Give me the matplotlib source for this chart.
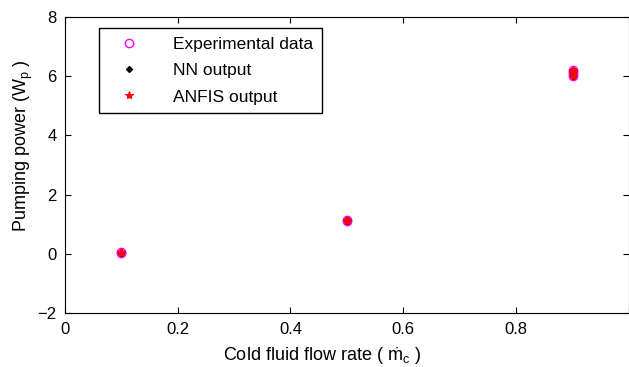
import matplotlib as mpl
import matplotlib.pyplot as plt

flow = [0.1, 0.1, 0.5, 0.5, 0.9, 0.9, 0.9, 0.9]
exp_power = [0.02, 0.05, 1.10, 1.14, 6.00, 6.08, 6.15, 6.22]
nn_power = [0.03, 0.04, 1.12, 1.15, 6.02, 6.10, 6.16, 6.20]
anfis_power = [0.02, 0.05, 1.11, 1.13, 6.01, 6.09, 6.14, 6.21]

x_ticks = [0, 0.2, 0.4, 0.6, 0.8, 1.0]
x_tick_labels = ["0", "0.2", "0.4", "0.6", "0.8", ""]
y_ticks = [-2, 0, 2, 4, 6, 8]

mpl.rcParams.update({
    "font.family": ["Liberation Sans", "DejaVu Sans"],
    "font.size": 12,
    "mathtext.fontset": "custom",
    "mathtext.rm": "Liberation Sans",
    "mathtext.it": "Liberation Sans",
})

fig = plt.figure(figsize=(6.29, 3.67), dpi=100)
ax = fig.add_axes([0.103, 0.147, 0.897, 0.807])

ax.plot(flow, exp_power, "o", mfc="none", mec="#FF00FF", ms=6, mew=1.0,
        label="Experimental data")
ax.plot(flow, nn_power, "D", color="black", ms=3, label="NN output")
ax.plot(flow, anfis_power, "*", color="red", ms=6, mew=0.8,
        label="ANFIS output")

ax.set_xlim(0, 1)
ax.set_ylim(-2, 8)
ax.set_xticks(x_ticks)
ax.set_xticklabels(x_tick_labels)
ax.set_yticks(y_ticks)
ax.tick_params(direction="in", top=True, right=True, length=4, width=0.8,
               labelsize=12)
ax.tick_params(axis="x", pad=6.5)
ax.tick_params(axis="y", pad=6)
for spine in ax.spines.values():
    spine.set_linewidth(0.8)

ax.set_xlabel(r"Cold fluid flow rate ( $\dot{\mathrm{m}}_\mathrm{c}$ )", fontsize=13)
ax.set_ylabel(r"Pumping power ($\mathrm{W}_\mathrm{p}$ )", fontsize=13)
ax.xaxis.set_label_coords(0.456, -0.11)
ax.yaxis.set_label_coords(-0.052, 0.565)

ax.legend(loc="upper left", bbox_to_anchor=(0.06, 0.963), borderaxespad=0,
          frameon=True, fancybox=False, edgecolor="black", framealpha=1,
          fontsize=12.5, borderpad=0.5, handletextpad=1.3, labelspacing=0.65,
          handlelength=2.5)

fig.savefig("out.png", dpi=100)
